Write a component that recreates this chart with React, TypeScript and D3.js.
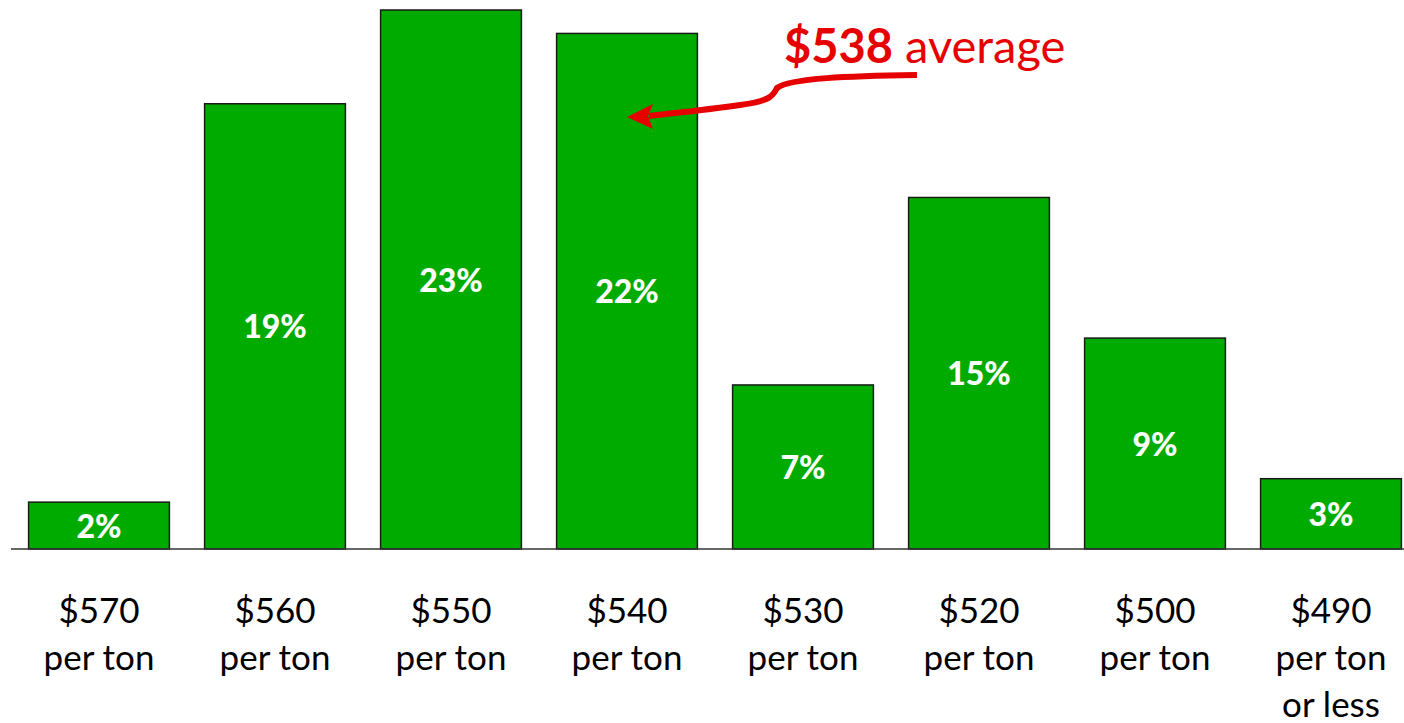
import * as d3 from 'd3';
import React, { useEffect, useRef } from 'react';

// price buckets (top line of each axis label) and share of responses
const prices = ['$570', '$560', '$550', '$540', '$530', '$520', '$500', '$490'];
const subLines = [['per ton'], ['per ton'], ['per ton'], ['per ton'], ['per ton'], ['per ton'], ['per ton'], ['per ton', 'or less']];
const shares = [2, 19, 23, 22, 7, 15, 9, 3];
const averageLabel = '$538';

const W = 1404;
const H = 723;
const FONT = 'Lato, "Open Sans", sans-serif';

const App: React.FC = () => {
  const svgRef = useRef<SVGSVGElement>(null);

  useEffect(() => {
    const svg = d3.select(svgRef.current).html('');
    const baseline = 549;

    const x = d3.scaleBand()
      .domain(prices)
      .range([11, 1419])
      .paddingInner(0.2)
      .paddingOuter(0.1);

    const y = d3.scaleLinear()
      .domain([0, 23])
      .range([baseline, 10]);

    const rows = prices.map((p, i) => ({ price: p, share: shares[i], sub: subLines[i] }));

    svg.selectAll('.bar')
      .data(rows)
      .enter().append('rect')
        .attr('class', 'bar')
        .attr('x', d => x(d.price)!)
        .attr('y', d => y(d.share))
        .attr('width', x.bandwidth())
        .attr('height', d => baseline - y(d.share))
        .attr('fill', '#00ab00')
        .attr('stroke', '#1a1a1a')
        .attr('stroke-width', 1.5);

    svg.append('line')
      .attr('x1', 11).attr('x2', W)
      .attr('y1', baseline).attr('y2', baseline)
      .attr('stroke', '#333')
      .attr('stroke-width', 1.5);

    svg.selectAll('.val')
      .data(rows)
      .enter().append('text')
        .attr('class', 'val')
        .attr('x', d => x(d.price)! + x.bandwidth() / 2)
        .attr('y', d => (y(d.share) + baseline) / 2 + 12)
        .attr('text-anchor', 'middle')
        .attr('fill', '#fff')
        .attr('font-family', FONT)
        .attr('font-weight', 900)
        .attr('font-size', 32)
        .text(d => `${d.share}%`);

    const labels = svg.selectAll('.cat')
      .data(rows)
      .enter().append('text')
        .attr('class', 'cat')
        .attr('text-anchor', 'middle')
        .attr('font-family', FONT)
        .attr('font-size', 35)
        .attr('fill', '#000');

    labels.each(function (d) {
      const t = d3.select(this);
      const cx = x(d.price)! + x.bandwidth() / 2;
      [d.price, ...d.sub].forEach((line, k) => {
        t.append('tspan').attr('x', cx).attr('y', 623 + k * 47).text(line);
      });
    });

    // annotation: average arrow pointing at the $540 bar
    const tipX = x('$540')! + x.bandwidth() / 2;
    const tipY = 117;
    svg.append('path')
      .attr('d', `M917,75 C850,76 790,78 777,88 C773,96 770,101 740,105 C705,110 675,113 ${tipX + 22},${tipY - 1}`)
      .attr('fill', 'none')
      .attr('stroke', '#e60000')
      .attr('stroke-width', 6);
    svg.append('path')
      .attr('d', `M${tipX},${tipY} L${tipX + 26},${tipY - 13} L${tipX + 21},${tipY - 1} L${tipX + 26},${tipY + 12} Z`)
      .attr('fill', '#e60000');

    const ann = svg.append('text')
      .attr('x', 784).attr('y', 63)
      .attr('font-family', FONT)
      .attr('font-size', 47)
      .attr('fill', '#e60000');
    ann.append('tspan').attr('font-weight', 'bold').text(averageLabel);
    ann.append('tspan').text(' average');
  }, []);

  return (
    <svg ref={svgRef} width={W} height={H} style={{ position: 'absolute', left: 0, top: 0, background: '#fff' }} />
  );
};

export default App;
